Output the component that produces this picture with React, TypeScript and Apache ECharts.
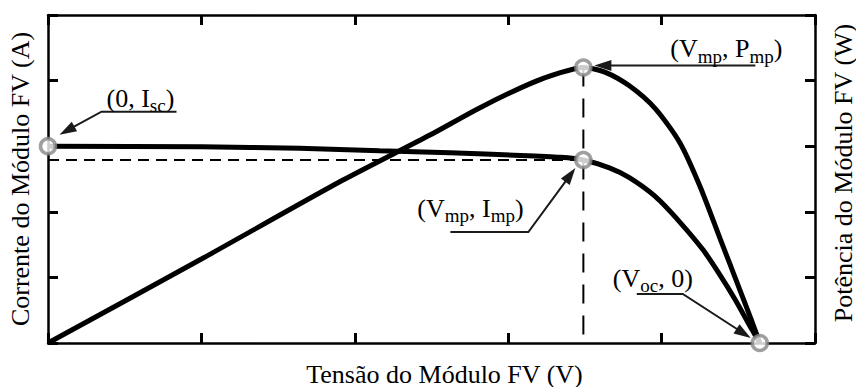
import React, { useEffect, useRef } from "react";
import * as echarts from "echarts";

// I-V curve of the PV module (voltage in V, current in A)
const ivVoltage = [0, 1.0, 1.64, 2.16, 2.62, 3.08, 3.34, 3.49, 3.66, 3.79, 3.96, 4.12, 4.27, 4.38, 4.48, 4.59, 4.64];
const ivCurrent = [3.0, 2.99, 2.97, 2.93, 2.9, 2.86, 2.83, 2.79, 2.67, 2.52, 2.23, 1.84, 1.42, 1.04, 0.66, 0.2, 0];

// P-V curve of the PV module (voltage in V, power in W)
const pvVoltage = [0, 1.0, 1.92, 2.49, 2.81, 3.14, 3.34, 3.49, 3.63, 3.79, 3.96, 4.12, 4.25, 4.38, 4.51, 4.59, 4.64];
const pvPower = [0, 1.28, 2.48, 3.17, 3.58, 3.95, 4.12, 4.2, 4.13, 3.92, 3.57, 3.05, 2.39, 1.6, 0.81, 0.32, 0];

// characteristic points
const ISC = 3.0;
const VMP = 3.49;
const IMP = 2.79;
const PMP = 4.2;
const VOC = 4.64;

// axis ranges (no numeric labels are shown)
const AXIS_MIN = 0;
const AXIS_MAX = 5;
const AXIS_STEP = 1;

const X_TITLE = "Tensão do Módulo FV (V)";
const Y_LEFT_TITLE = "Corrente do Módulo FV (A)";
const Y_RIGHT_TITLE = "Potência do Módulo FV (W)";

const FONT = "'Liberation Serif', 'Times New Roman', serif";

// callouts: label, anchored data point, leader path and text offset (px from the point)
const notes = [
  {
    label: "{b|(0, I}{s|sc}{b|)}",
    at: [0, ISC],
    yAxis: 0,
    path: [[128.5, -34.5], [53.5, -34.5], [11.5, -11.5]],
    textAt: [58.5, -41.5],
  },
  {
    label: "{b|(V}{s|mp}{b|, P}{s|mp}{b|)}",
    at: [VMP, PMP],
    yAxis: 1,
    path: [[172, -2], [11, -2]],
    textAt: [87, -12],
  },
  {
    label: "{b|(V}{s|mp}{b|, I}{s|mp}{b|)}",
    at: [VMP, IMP],
    yAxis: 0,
    path: [[-133, 72], [-55, 72], [-8, 8]],
    textAt: [-166, 55],
  },
  {
    label: "{b|(V}{s|oc}{b|, 0)}",
    at: [VOC, 0],
    yAxis: 0,
    path: [[-123, -49], [-77, -49], [-9, -5]],
    textAt: [-147, -58],
  },
];

const zip = (xs: number[], ys: number[]) => xs.map((x, i) => [x, ys[i]]);

const axisBase = {
  type: "value",
  min: AXIS_MIN,
  max: AXIS_MAX,
  interval: AXIS_STEP,
  axisLine: { show: true, onZero: false, lineStyle: { color: "#000", width: 2.5 } },
  axisTick: { show: true, inside: true, length: 10, lineStyle: { color: "#000", width: 3 } },
  axisLabel: { show: false },
  splitLine: { show: false },
};

const titleStyle = { fontFamily: FONT, fontSize: 26, color: "#000" };

const circleStyle = { color: "#fff", borderColor: "#878787", borderWidth: 3.5 };

function buildOption() {
  return {
    animation: false,
    grid: { left: 48, right: 41, top: 15, bottom: 44, containLabel: false, outerBoundsMode: "none" },
    xAxis: [
      {
        ...axisBase,
        position: "bottom",
        name: X_TITLE,
        nameLocation: "middle",
        nameGap: 18,
        nameTextStyle: { ...titleStyle, padding: [0, 0, 0, 26] },
      },
      { ...axisBase, position: "top" },
    ],
    yAxis: [
      {
        ...axisBase,
        position: "left",
        name: Y_LEFT_TITLE,
        nameLocation: "middle",
        nameRotate: 90,
        nameGap: 15,
        nameTextStyle: titleStyle,
      },
      {
        ...axisBase,
        position: "right",
        name: Y_RIGHT_TITLE,
        nameLocation: "middle",
        nameRotate: 90,
        nameGap: 15,
        nameTextStyle: { ...titleStyle, padding: [0, 0, 0, 12] },
      },
    ],
    series: [
      {
        type: "line",
        xAxisIndex: 0,
        yAxisIndex: 1,
        data: [[VMP, PMP], [VMP, 0]],
        showSymbol: false,
        clip: false,
        lineStyle: { color: "#000", width: 2, type: [19, 12] },
        z: 2,
      },
      {
        type: "line",
        xAxisIndex: 0,
        yAxisIndex: 0,
        data: [[0, IMP], [VMP, IMP]],
        showSymbol: false,
        clip: false,
        lineStyle: { color: "#000", width: 2, type: [11, 7] },
        z: 2,
      },
      {
        type: "line",
        xAxisIndex: 0,
        yAxisIndex: 0,
        data: zip(ivVoltage, ivCurrent),
        showSymbol: false,
        smooth: 0.25,
        clip: false,
        lineStyle: { color: "#000", width: 5 },
        z: 3,
      },
      {
        type: "line",
        xAxisIndex: 0,
        yAxisIndex: 1,
        data: zip(pvVoltage, pvPower),
        showSymbol: false,
        smooth: 0.25,
        clip: false,
        lineStyle: { color: "#000", width: 5 },
        z: 3,
      },
      {
        type: "scatter",
        xAxisIndex: 0,
        yAxisIndex: 0,
        data: [[0, ISC], [VMP, IMP], [VOC, 0]],
        symbol: "circle",
        symbolSize: 15,
        clip: false,
        itemStyle: circleStyle,
        z: 5,
      },
      {
        type: "scatter",
        xAxisIndex: 0,
        yAxisIndex: 1,
        data: [[VMP, PMP]],
        symbol: "circle",
        symbolSize: 15,
        clip: false,
        itemStyle: circleStyle,
        z: 5,
      },
    ],
  };
}

// big glyphs sit raised by their bottom padding, so the small tokens drop below as subscripts
const SUB_DROP = 4;
const richStyles = {
  b: {
    fontFamily: FONT,
    fontSize: 26,
    verticalAlign: "bottom",
    padding: [0, 0, SUB_DROP, 0],
    fill: "#000",
  },
  s: { fontFamily: FONT, fontSize: 19, verticalAlign: "bottom", fill: "#000" },
};

function buildCallouts(chart: echarts.ECharts) {
  const ink = "#1a1a1a";
  const headLen = 17;
  const headHalf = 5.5;
  const out: any[] = [];
  notes.forEach((n) => {
    const [px, py] = chart.convertToPixel({ xAxisIndex: 0, yAxisIndex: n.yAxis }, n.at) as number[];
    const pts = n.path.map(([dx, dy]) => [px + dx, py + dy]);
    const tip = pts[pts.length - 1];
    const prev = pts[pts.length - 2];
    const ang = Math.atan2(tip[1] - prev[1], tip[0] - prev[0]);
    const ux = Math.cos(ang);
    const uy = Math.sin(ang);
    const base = [tip[0] - ux * headLen, tip[1] - uy * headLen];
    const shaft = pts.slice(0, -1).concat([[tip[0] - ux * headLen * 0.7, tip[1] - uy * headLen * 0.7]]);
    out.push({
      type: "polyline",
      silent: true,
      z: 10,
      shape: { points: shaft },
      style: { stroke: ink, lineWidth: 2, fill: "none" },
    });
    out.push({
      type: "polygon",
      silent: true,
      z: 10,
      shape: {
        points: [
          tip,
          [base[0] - uy * headHalf, base[1] + ux * headHalf],
          [base[0] + uy * headHalf, base[1] - ux * headHalf],
        ],
      },
      style: { fill: ink, stroke: "none" },
    });
    out.push({
      type: "text",
      silent: true,
      z: 10,
      x: px + n.textAt[0],
      y: py + n.textAt[1] + 6.4 + SUB_DROP,
      style: {
        text: n.label,
        rich: richStyles,
        align: "left",
        verticalAlign: "bottom",
        fill: "#000",
        fontFamily: FONT,
        fontSize: 26,
      },
    });
  });
  return out;
}

export default function App() {
  const ref = useRef<HTMLDivElement>(null);

  useEffect(() => {
    if (!ref.current) return;
    const chart = echarts.init(ref.current, null, { renderer: "svg" });
    chart.setOption(buildOption() as any);
    chart.setOption({ graphic: buildCallouts(chart) } as any);
    return () => chart.dispose();
  }, []);

  return (
    <div
      ref={ref}
      style={{ position: "absolute", left: 0, top: 0, width: 856, height: 387, background: "#fff" }}
    />
  );
}
